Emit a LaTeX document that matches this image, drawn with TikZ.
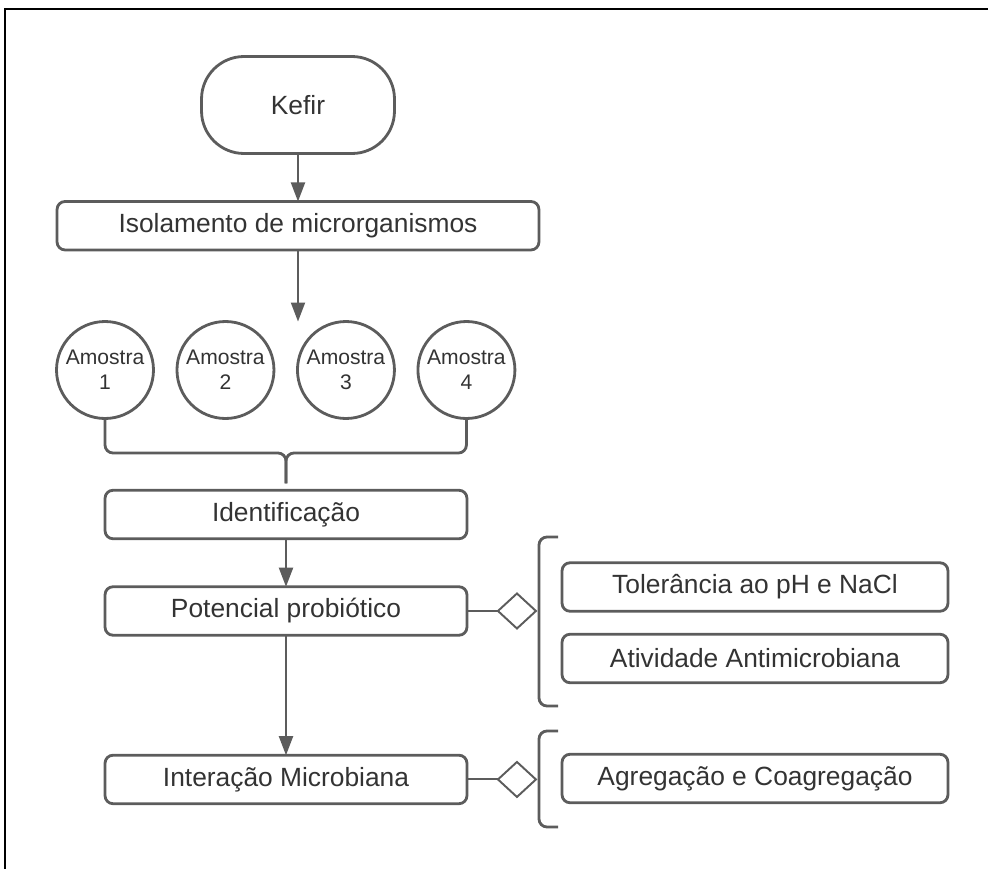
\documentclass[tikz,border=0pt]{standalone}
\usepackage{fontspec}
\setmainfont{Liberation Sans}
\usetikzlibrary{positioning,arrows.meta,shapes.geometric,calc}
\definecolor{Linha}{RGB}{92,92,92}
\definecolor{Texto}{RGB}{51,51,51}

\begin{document}
\begin{tikzpicture}[x=0.02cm,y=-0.02cm,
 b/.style={draw=Linha,line width=1.6pt,rounded corners=0.16cm,minimum width=7.24cm,minimum height=0.97cm,inner sep=0pt,outer sep=0pt,text=Texto,font=\fontsize{15}{18}\selectfont},
 term/.style={b,rounded corners=0.85cm,minimum width=3.86cm,minimum height=1.94cm},
 amo/.style={circle,draw=Linha,line width=1.6pt,minimum size=1.94cm,inner sep=0pt,outer sep=0pt,align=center,text=Texto,font=\fontsize{12}{14}\selectfont},
 dia/.style={diamond,draw=Linha,line width=1.1pt,minimum width=0.76cm,minimum height=0.70cm,inner sep=0pt,outer sep=0pt},
 a/.style={-{Triangle[length=0.38cm,width=0.28cm]},draw=Linha,fill=Linha,line width=1.1pt},
 l/.style={draw=Linha,line width=1.1pt},
 br/.style={draw=Linha,line width=1.6pt,rounded corners=0.16cm}]
\useasboundingbox (0,0) rectangle (988,869);
\draw[line width=1.4pt] (5,869)--(5,9)--(988,9);
\node[term] (kefir) at (298,105) {Kefir};
\node[b,minimum width=9.64cm,below=0.96cm of kefir] (iso) {Isolamento de microrganismos};
\node[amo] (a1) at (105,370) {Amostra\\1};
\node[amo,right=0.47cm of a1] (a2) {Amostra\\2};
\node[amo,right=0.47cm of a2] (a3) {Amostra\\3};
\node[amo,right=0.47cm of a3] (a4) {Amostra\\4};
\node[b] (ident) at (286,514.5) {Identificação};
\node[b,below=0.96cm of ident] (pot) {Potencial probiótico};
\node[b,below=2.4cm of pot] (inter) {Interação Microbiana};
\node[dia,right=0.62cm of pot] (d1) {};
\node[dia,right=0.62cm of inter] (d2) {};
\node[b,minimum width=7.72cm] (tol) at (755,587) {Tolerância ao pH e NaCl};
\node[b,minimum width=7.72cm,below=0.46cm of tol] (ativ) {Atividade Antimicrobiana};
\node[b,minimum width=7.72cm] (agreg) at (755,778.5) {Agregação e Coagregação};
\coordinate (ponta) at ($(ident.north)+(0,-7)$);
\draw[a] (kefir)--(iso);
\draw[a] (iso)--(iso.south |- a1.north);
\draw[br] (a1.south)--(105,453)--(ponta |- 0,453)--(ponta);
\draw[br] (a4.south)--(a4.south |- 0,453)--(ponta |- 0,453)--(ponta);
\draw[a] (ident)--(pot);
\draw[a] (pot)--(inter);
\draw[l] (pot.east)--(d1.west);
\draw[l] (inter.east)--(d2.west);
\draw[br] (558,537)--(539,537)--(539,706)--(558,706);
\draw[br] (558,731)--(539,731)--(539,827)--(558,827);
\end{tikzpicture}
\end{document}
